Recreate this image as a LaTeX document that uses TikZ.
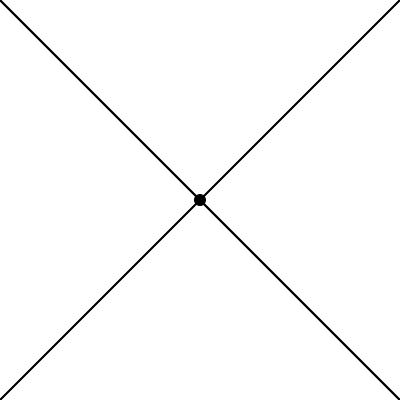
\documentclass[tikz,border=0pt]{standalone}
\begin{document}
\begin{tikzpicture}[line/.style={line width=0.6pt, black}]
\useasboundingbox (0,0) rectangle (4,4);
\coordinate (bl) at (0,0);
\coordinate (tr) at (4,4);
\coordinate (tl) at (0,4);
\coordinate (br) at (4,0);
\coordinate (c) at (2,2);
\draw[line] (tl) -- (br);
\draw[line] (bl) -- (tr);
\fill[black] (c) circle (0.06);
\end{tikzpicture}
\end{document}
